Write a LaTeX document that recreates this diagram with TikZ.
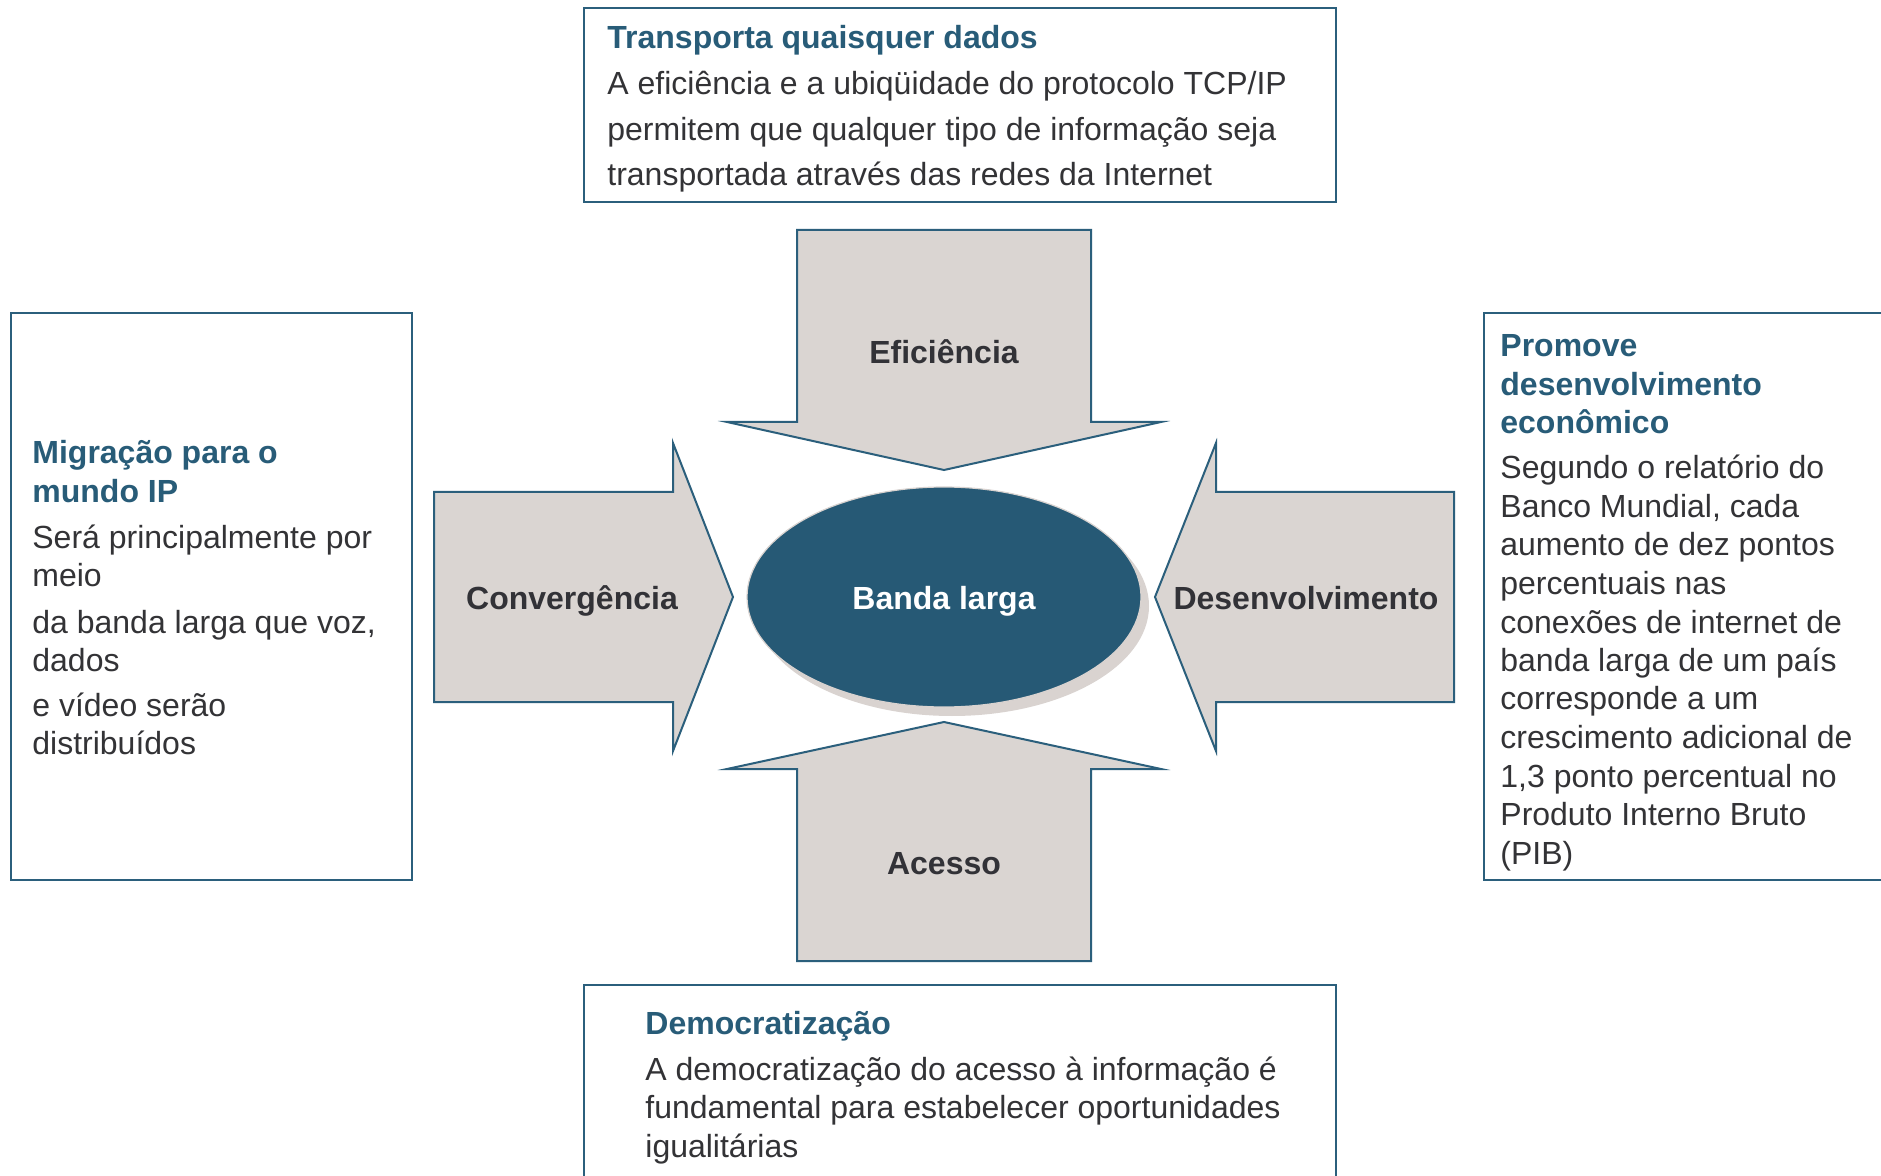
\documentclass[tikz,border=0pt]{standalone}
\usepackage{fontspec}
\setmainfont{Liberation Sans}
\usetikzlibrary{shapes.geometric,shadows}
\definecolor{lnc}{RGB}{43,95,124}
\definecolor{ttlc}{RGB}{40,92,120}
\definecolor{txtc}{RGB}{51,51,54}
\definecolor{labc}{RGB}{50,50,55}
\definecolor{arrf}{RGB}{218,213,210}
\definecolor{ellf}{RGB}{38,89,117}
\definecolor{shadc}{RGB}{217,211,208}
\begin{document}
\begin{tikzpicture}[x=0.5pt,y=-0.5pt,
  body/.style={anchor=base west,inner sep=0pt,text=txtc,font=\fontsize{16}{19}\selectfont},
  head/.style={anchor=base west,inner sep=0pt,text=ttlc,font=\fontsize{16}{19}\selectfont\bfseries},
  lab/.style={anchor=base,inner sep=0pt,text=labc,font=\fontsize{16}{19}\selectfont\bfseries},
  arr/.style={fill=arrf,draw=lnc,line width=1pt,line join=miter},
  infobox/.style={draw=lnc,line width=1pt}]
\clip (0,0) rectangle (1881,1176);
\fill[white] (0,0) rectangle (1881,1176);

% info boxes
\draw[infobox] (584,8) rectangle (1336,202);
\draw[infobox] (11,313) rectangle (412,880);
\draw[infobox] (1900,313) -- (1484,313) -- (1484,880) -- (1900,880);
\draw[infobox] (584,1190) -- (584,985) -- (1336,985) -- (1336,1190);

% arrows
\draw[arr] (797,230) -- (1091,230) -- (1091,422) -- (1161,422) -- (944,470) -- (727,422) -- (797,422) -- cycle;
\draw[arr] (797,961) -- (1091,961) -- (1091,769) -- (1161,769) -- (944,722) -- (727,769) -- (797,769) -- cycle;
\draw[arr] (434,492) -- (673,492) -- (673,443) -- (733,597) -- (673,751) -- (673,702) -- (434,702) -- cycle;
\draw[arr] (1454,492) -- (1216,492) -- (1216,443) -- (1155,597) -- (1216,751) -- (1216,702) -- (1454,702) -- cycle;

% centre ellipse
\node (blshadow) [ellipse, fill=shadc, minimum width=197pt, minimum height=110pt, inner sep=0pt] at (952,606) {};
\node (bl) [ellipse, fill=ellf, draw=shadc, line width=0.6pt, minimum width=197pt, minimum height=110pt, inner sep=0pt] at (944,597) {};
\node[lab, text=white] (bltxt) at (944,610) {Banda larga};

% arrow labels
\node[lab] (lef) at (944,364) {Eficiência};
\node[lab] (lac) at (944,874) {Acesso};
\node[lab] (lco) at (572,610) {Convergência};
\node[lab] (lde) at (1306,610) {Desenvolvimento};

% top box text
\node[head] (t0) at (607,49) {Transporta quaisquer dados};
\node[body] (t1) at (607,94.5) {A eficiência e a ubiqüidade do protocolo TCP/IP};
\node[body] (t2) at (607,140.5) {permitem que qualquer tipo de informação seja};
\node[body] (t3) at (607,186) {transportada através das redes da Internet};

% left box text
\node[head] (l0) at (32,464) {Migração para o};
\node[head] (l1) at (32,502.5) {mundo IP};
\node[body] (l2) at (32,548.5) {Será principalmente por};
\node[body] (l3) at (32,587) {meio};
\node[body] (l4) at (32,633) {da banda larga que voz,};
\node[body] (l5) at (32,671.5) {dados};
\node[body] (l6) at (32,716) {e vídeo serão};
\node[body] (l7) at (32,754.5) {distribuídos};

% right box text
\node[head] (r0) at (1500,357) {Promove};
\node[head] (r1) at (1500,395.5) {desenvolvimento};
\node[head] (r2) at (1500,434) {econômico};
\node[body] (r3) at (1500,479) {Segundo o relatório do};
\node[body] (r4) at (1500,517.5) {Banco Mundial, cada};
\node[body] (r5) at (1500,556) {aumento de dez pontos};
\node[body] (r6) at (1500,594.5) {percentuais nas};
\node[body] (r7) at (1500,633) {conexões de internet de};
\node[body] (r8) at (1500,671.5) {banda larga de um país};
\node[body] (r9) at (1500,710) {corresponde a um};
\node[body] (r10) at (1500,748.5) {crescimento adicional de};
\node[body] (r11) at (1500,787) {1,3 ponto percentual no};
\node[body] (r12) at (1500,825.5) {Produto Interno Bruto};
\node[body] (r13) at (1500,864) {(PIB)};

% bottom box text
\node[head] (b0) at (645,1034) {Democratização};
\node[body] (b1) at (645,1080) {A democratização do acesso à informação é};
\node[body] (b2) at (645,1118.5) {fundamental para estabelecer oportunidades};
\node[body] (b3) at (645,1157) {igualitárias};
\end{tikzpicture}
\end{document}
